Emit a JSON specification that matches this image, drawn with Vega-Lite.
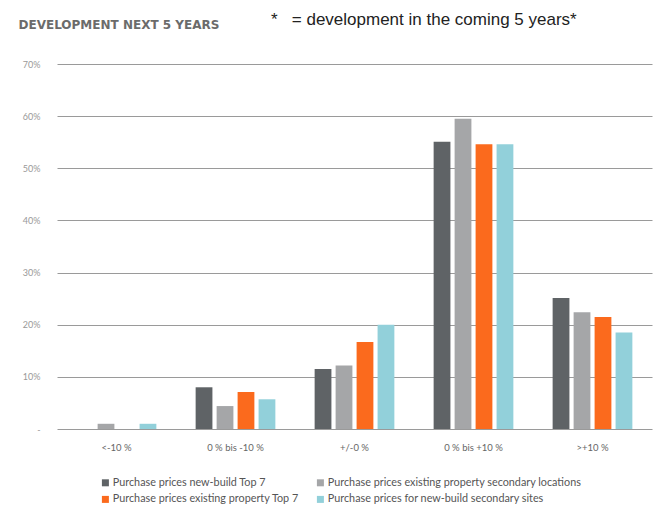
{
  "$schema": "https://vega.github.io/schema/vega-lite/v6.json",
  "autosize": {"type": "none"},
  "width": 595,
  "height": 365,
  "padding": {"left": 57, "top": 64, "right": 20, "bottom": 77},
  "background": "white",
  "title": {
    "text": "*\u00a0\u00a0\u00a0= development in the coming 5 years*",
    "anchor": "start",
    "frame": "group",
    "dx": 214,
    "offset": -24,
    "baseline": "alphabetic",
    "font": "Liberation Sans",
    "fontSize": 17,
    "fontWeight": "normal",
    "color": "#222222"
  },
  "data": {
    "values": [
      {"cat": "<-10 %", "series": "Purchase prices new-build Top 7", "value": 0},
      {"cat": "<-10 %", "series": "Purchase prices existing property secondary locations", "value": 1},
      {"cat": "<-10 %", "series": "Purchase prices existing property Top 7", "value": 0},
      {"cat": "<-10 %", "series": "Purchase prices for new-build secondary sites", "value": 1},
      {"cat": "0 % bis -10 %", "series": "Purchase prices new-build Top 7", "value": 8.0},
      {"cat": "0 % bis -10 %", "series": "Purchase prices existing property secondary locations", "value": 4.4},
      {"cat": "0 % bis -10 %", "series": "Purchase prices existing property Top 7", "value": 7.1},
      {"cat": "0 % bis -10 %", "series": "Purchase prices for new-build secondary sites", "value": 5.7},
      {"cat": "+/-0 %", "series": "Purchase prices new-build Top 7", "value": 11.5},
      {"cat": "+/-0 %", "series": "Purchase prices existing property secondary locations", "value": 12.2},
      {"cat": "+/-0 %", "series": "Purchase prices existing property Top 7", "value": 16.7},
      {"cat": "+/-0 %", "series": "Purchase prices for new-build secondary sites", "value": 20.0},
      {"cat": "0 % bis +10 %", "series": "Purchase prices new-build Top 7", "value": 55.1},
      {"cat": "0 % bis +10 %", "series": "Purchase prices existing property secondary locations", "value": 59.5},
      {"cat": "0 % bis +10 %", "series": "Purchase prices existing property Top 7", "value": 54.6},
      {"cat": "0 % bis +10 %", "series": "Purchase prices for new-build secondary sites", "value": 54.6},
      {"cat": ">+10 %", "series": "Purchase prices new-build Top 7", "value": 25.1},
      {"cat": ">+10 %", "series": "Purchase prices existing property secondary locations", "value": 22.4},
      {"cat": ">+10 %", "series": "Purchase prices existing property Top 7", "value": 21.5},
      {"cat": ">+10 %", "series": "Purchase prices for new-build secondary sites", "value": 18.5}
    ]
  },
  "mark": {"type": "bar"},
  "encoding": {
    "x": {
      "field": "cat",
      "type": "nominal",
      "sort": null,
      "scale": {"paddingInner": 0.33, "paddingOuter": 0.165},
      "axis": {
        "title": null,
        "labelAngle": 0,
        "ticks": false,
        "domain": false,
        "labelPadding": 13,
        "labelFont": "Lato",
        "labelFontSize": 9.5,
        "labelColor": "#666666"
      }
    },
    "xOffset": {
      "field": "series",
      "type": "nominal",
      "sort": [
        "Purchase prices new-build Top 7",
        "Purchase prices existing property secondary locations",
        "Purchase prices existing property Top 7",
        "Purchase prices for new-build secondary sites"
      ],
      "scale": {"paddingInner": 0.2, "paddingOuter": 0}
    },
    "y": {
      "field": "value",
      "type": "quantitative",
      "scale": {"domain": [0, 70]},
      "axis": {
        "title": "DEVELOPMENT NEXT 5 YEARS",
        "titleAngle": 0,
        "titleAlign": "left",
        "titleBaseline": "alphabetic",
        "titleX": -39,
        "titleY": -36,
        "titleFont": "DejaVu Sans",
        "titleFontSize": 12,
        "titleFontWeight": "bold",
        "titleColor": "#6b6b6b",
        "values": [0, 10, 20, 30, 40, 50, 60, 70],
        "labelExpr": "datum.value === 0 ? '-' : datum.value + '%'",
        "ticks": false,
        "domain": false,
        "labelPadding": 17,
        "labelFont": "Lato",
        "labelFontSize": 9,
        "labelColor": "#999999",
        "grid": true,
        "gridColor": "#9a9a9a",
        "gridWidth": 1
      }
    },
    "color": {
      "field": "series",
      "type": "nominal",
      "scale": {
        "domain": [
          "Purchase prices new-build Top 7",
          "Purchase prices existing property Top 7",
          "Purchase prices existing property secondary locations",
          "Purchase prices for new-build secondary sites"
        ],
        "range": ["#5f6366", "#fb6a1d", "#a5a6a8", "#92d0da"]
      },
      "legend": {
        "title": null,
        "orient": "none",
        "legendX": 43,
        "legendY": 413,
        "columns": 2,
        "columnPadding": 16,
        "rowPadding": 5,
        "symbolType": "square",
        "symbolSize": 49,
        "symbolStrokeWidth": 0,
        "labelFont": "Lato",
        "labelFontSize": 10.8,
        "labelColor": "#555555",
        "labelLimit": 400,
        "labelOffset": 2
      }
    }
  },
  "config": {
    "view": {"stroke": null}
  }
}
